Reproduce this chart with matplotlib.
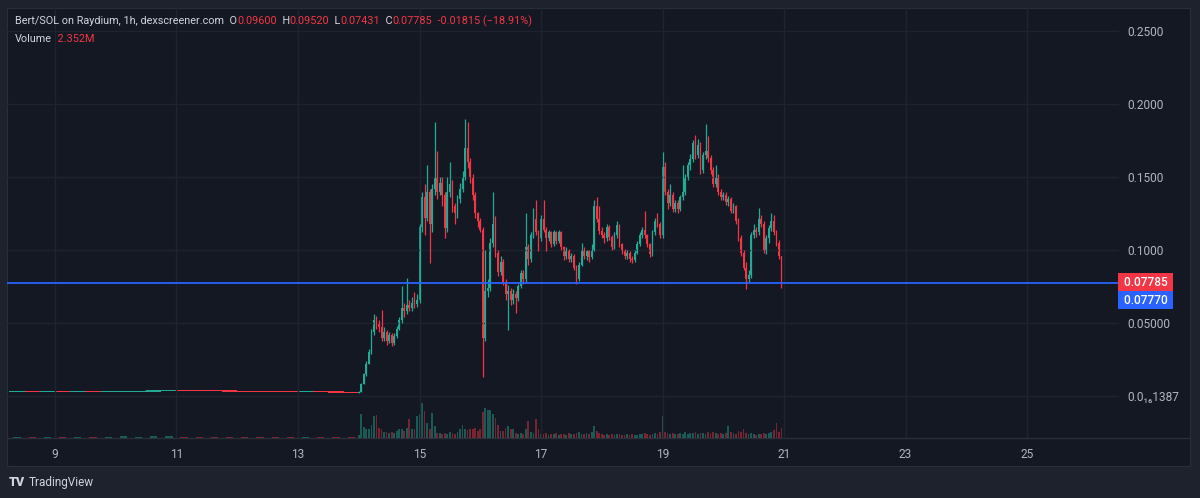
import matplotlib.pyplot as plt
import numpy as np
from matplotlib.lines import Line2D

plt.rcParams['font.family'] = ['Roboto', 'DejaVu Sans']

# prices below are in 1e-3 SOL
# pre-launch drift, 6h candles from Jan 8 06:00
pre_open0 = 2.4
pre_close = [2.5, 2.4, 2.6, 2.5, 2.7, 2.6, 2.8, 2.9, 3.0, 3.3, 3.5, 3.4,
             3.3, 3.1, 3.0, 2.9, 2.8, 2.7, 2.5, 2.6, 2.4, 2.3, 2.2]
pre_vol = [0.3, 0.2, 0.3, 0.25, 0.3, 0.2, 0.3, 0.35, 0.3, 0.4, 0.35, 0.3,
           0.3, 0.25, 0.3, 0.2, 0.3, 0.25, 0.3, 0.2, 0.25, 0.3, 0.3]

# hourly candles, Jan 14 00:00 .. Jan 20 23:00
open0 = 2.2
close = [
    3, 8, 15, 22, 30, 44, 52, 50, 47, 40, 44, 38, 42, 36, 41, 46, 52, 60, 58, 62, 60, 64, 63, 66,
    116, 136, 122, 140, 118, 142, 150, 140, 146, 138, 115, 140, 145, 130, 125, 135, 142, 150, 170, 160, 150, 138, 125, 120,
    114, 40, 72, 74, 105, 118, 98, 85, 92, 78, 70, 72, 66, 70, 67, 75, 84, 80, 102, 94, 110, 121, 112, 108,
    121, 114, 108, 112, 104, 112, 106, 112, 102, 96, 100, 94, 96, 88, 80, 90, 100, 96, 99, 95, 100, 130, 121, 113,
    110, 108, 116, 109, 102, 110, 117, 104, 100, 96, 98, 94, 93, 98, 104, 110, 114, 110, 104, 97, 112, 120, 118, 110,
    157, 140, 132, 138, 128, 132, 128, 136, 140, 150, 158, 162, 173, 165, 172, 155, 165, 168, 163, 155, 145, 150, 140, 136,
    138, 133, 135, 127, 130, 120, 108, 98, 88, 80, 83, 110, 114, 112, 121, 118, 100, 108, 115, 120, 112, 105, 96, 77.85,
]
high = [
    3.5, 9, 16, 24, 32, 46, 56, 55, 52, 59, 47, 45, 44, 43, 43, 48, 54, 75, 64, 81, 66, 68, 71, 70,
    118, 140, 145, 158, 142, 145, 188, 168, 150, 150, 140, 150, 160, 148, 132, 138, 146, 154, 190, 188, 163, 152, 140, 126,
    122, 116, 100, 80, 108, 140, 123, 100, 96, 94, 80, 76, 74, 73, 72, 77, 86, 86, 125, 104, 112, 129, 134, 114,
    124, 134, 116, 114, 113, 114, 113, 114, 113, 103, 102, 101, 98, 97, 90, 92, 105, 102, 100, 100, 104, 134, 136, 130,
    116, 112, 118, 117, 110, 112, 120, 118, 105, 101, 100, 99, 96, 100, 106, 112, 116, 127, 111, 105, 114, 122, 125, 119,
    167, 160, 142, 145, 140, 134, 134, 138, 158, 152, 160, 166, 175, 179, 176, 174, 167, 186, 178, 165, 157, 158, 152, 142,
    140, 140, 137, 136, 132, 131, 122, 110, 100, 92, 86, 112, 118, 116, 129, 124, 120, 110, 117, 125, 124, 114, 107, 96,
]
low = [
    2.2, 3, 8, 14, 22, 29, 42, 46, 44, 38, 38, 35, 36, 34, 35, 40, 45, 50, 54, 56, 58, 58, 60, 61,
    64, 112, 110, 120, 91, 112, 138, 135, 138, 130, 108, 112, 136, 126, 118, 122, 132, 140, 148, 156, 146, 134, 122, 116,
    112, 13, 38, 68, 72, 102, 95, 82, 83, 76, 66, 45, 62, 63, 57, 65, 74, 77, 78, 90, 92, 108, 110, 99,
    106, 112, 99, 106, 102, 103, 104, 105, 100, 93, 94, 92, 92, 86, 77, 79, 89, 94, 93, 92, 94, 99, 119, 111,
    108, 105, 106, 107, 100, 101, 108, 102, 97, 94, 94, 92, 91, 92, 97, 103, 108, 108, 102, 95, 96, 110, 116, 108,
    108, 138, 128, 130, 126, 126, 125, 127, 134, 138, 148, 155, 160, 162, 163, 152, 153, 162, 160, 152, 143, 143, 138, 134,
    134, 131, 130, 125, 125, 118, 106, 96, 86, 73, 78, 81, 108, 109, 110, 116, 98, 97, 105, 113, 110, 103, 94, 74.31,
]
# volume, millions
volume = [
    0.8, 5.6, 2.5, 2.0, 2.2, 3.0, 5.2, 5.4, 2.4, 2.2, 1.4, 1.4, 1.2, 1.4, 1.2, 1.6, 2.0, 2.2, 1.6, 2.4, 4.5, 2.0, 2.0, 5.2,
    5.6, 8.2, 6.3, 3.5, 2.2, 5.9, 2.8, 1.2, 1.2, 1.0, 1.2, 1.0, 1.4, 1.2, 1.0, 1.4, 2.0, 3.0, 2.0, 1.8, 2.2, 2.0, 2.4, 1.6,
    2.0, 6.0, 7.0, 6.5, 6.6, 5.6, 4.7, 3.0, 1.6, 1.6, 2.4, 2.8, 2.2, 2.0, 1.2, 1.0, 1.2, 1.0, 2.2, 4.0, 1.4, 1.2, 4.5, 2.0,
    1.0, 0.9, 1.2, 0.8, 1.0, 0.9, 1.1, 0.8, 0.9, 1.0, 0.8, 1.2, 1.0, 0.9, 1.1, 1.3, 1.0, 0.9, 1.2, 1.0, 1.4, 2.8, 1.6, 1.2,
    0.9, 0.8, 1.0, 0.7, 0.9, 0.8, 1.0, 0.9, 0.7, 0.8, 1.0, 0.8, 0.9, 0.8, 0.7, 1.0, 0.9, 1.1, 0.9, 0.8, 1.0, 1.2, 1.0, 1.4,
    5.2, 1.4, 1.2, 1.0, 1.1, 0.9, 1.0, 1.2, 1.0, 1.3, 0.9, 1.1, 1.2, 1.4, 1.0, 1.2, 1.1, 1.0, 1.5, 1.2, 1.4, 1.1, 1.0, 1.2,
    1.0, 1.2, 2.8, 1.4, 1.2, 1.0, 1.6, 1.4, 2.1, 1.2, 1.0, 1.2, 0.9, 0.8, 1.0, 0.9, 1.1, 1.0, 1.2, 1.4, 1.8, 3.5, 1.5, 2.352,
]

price_ticks = [1.387e-17, 0.05, 0.10, 0.15, 0.20, 0.25]
price_labels = ['0.0₁₆1387', '0.05000', '0.1000', '0.1500', '0.2000', '0.2500']
day_ticks = [9, 11, 13, 15, 17, 19, 21, 23, 25]
last_price = 0.07785
mark_price = 0.07770

UP, DOWN = '#22ab94', '#f23645'
TXT = '#d1d4dc'
AXT = '#b2b5be'
PANEL = '#141823'
GRID = '#1f2330'
FS = 7.8

fig = plt.figure(figsize=(12, 4.98), dpi=100, facecolor='#1e222d')
W, H = 1200, 498

bg = fig.add_axes([7 / W, 1 - 466 / H, 1183 / W, 458 / H])
bg.set_facecolor(PANEL)
bg.set_xticks([])
bg.set_yticks([])
for s in bg.spines.values():
    s.set_color('#2a2e39')

ax = fig.add_axes([7 / W, 1 - 438 / H, 1112 / W, 430 / H])
vax = ax.twinx()
ax.set_zorder(3)
vax.set_zorder(2)
ax.patch.set_visible(False)
vax.axis('off')

# pre-launch
po = np.r_[pre_open0, pre_close[:-1]] / 1000
pc = np.array(pre_close) / 1000
pt = 8.25 + np.arange(len(pc)) * 0.25
pcol = np.where(pc >= po, UP, DOWN)
ax.bar(pt, np.maximum(np.abs(pc - po), 0.0008), bottom=np.minimum(po, pc),
       width=0.25, align='edge', color=pcol, lw=0)
vax.bar(pt + 0.125, pre_vol, width=0.12, color=pcol, alpha=0.45, lw=0)

# hourly candles
c = np.array(close) / 1000
o = np.r_[open0 / 1000, c[:-1]]
t = 14 + np.arange(len(c)) / 24
col = np.where(c >= o, UP, DOWN)
ax.vlines(t, np.array(low) / 1000, np.array(high) / 1000, colors=col, lw=0.9)
ax.bar(t, np.maximum(np.abs(c - o), 0.0008), bottom=np.minimum(o, c),
       width=0.7 / 24, color=col, lw=0)
vax.bar(t, volume, width=0.7 / 24, color=col, alpha=0.45, lw=0)

ax.axhline(mark_price, color='#2962ff', lw=1.3)

ax.set_xlim(8.21, 26.514)
ax.set_ylim(-0.02877, 0.26575)
vax.set_ylim(0, 100)

ax.set_xticks(day_ticks, labels=[str(d) for d in day_ticks])
ax.yaxis.tick_right()
ax.set_yticks(price_ticks, labels=price_labels)
ax.tick_params(axis='both', length=0, colors=AXT, labelsize=8.6)
ax.tick_params(axis='y', pad=6)
ax.tick_params(axis='x', pad=7)
ax.grid(True, color=GRID, lw=1)
for s in ax.spines.values():
    s.set_visible(False)

# price labels on the scale
for txt, fc, dy in [(' 0.07785 ', DOWN, 0), (' 0.07770 ', '#2962ff', -18)]:
    ax.annotate(txt, xy=(1, last_price), xycoords=('axes fraction', 'data'),
                xytext=(2, dy), textcoords='offset pixels', va='center', ha='left',
                color='white', fontsize=8.6, fontweight='medium',
                bbox=dict(boxstyle='square,pad=0.22', fc=fc, ec='none'))

fig.add_artist(Line2D([7 / W, 1190 / W], [1 - 438 / H] * 2, color='#2a2e39', lw=1))

# legend header, coloured pieces chained one after another
y1, y2 = H - 24, H - 42
prev = fig.text(15 / W, y1 / H, 'Bert/SOL on Raydium, 1h, dexscreener.com  O',
                color=TXT, fontsize=FS, va='baseline')
for s, cl in [('0.09600', DOWN), ('  H', TXT), ('0.09520', DOWN), ('  L', TXT),
              ('0.07431', DOWN), ('  C', TXT), ('0.07785', DOWN),
              ('  -0.01815 (−18.91%)', DOWN)]:
    prev = ax.annotate(s, xy=(1, y1), xycoords=(prev, 'figure pixels'),
                       va='baseline', ha='left', color=cl, fontsize=FS,
                       annotation_clip=False)

vol_t = fig.text(15 / W, y2 / H, 'Volume', color=TXT, fontsize=FS, va='baseline')
ax.annotate('  2.352M', xy=(1, y2), xycoords=(vol_t, 'figure pixels'),
            va='baseline', ha='left', color=DOWN, fontsize=FS, annotation_clip=False)

# footer logo
fig.text(9 / W, 1 - 482 / H, 'TV', color=TXT, fontsize=9, fontweight='black', va='center')
fig.text(29 / W, 1 - 482 / H, 'TradingView', color=TXT, fontsize=8.5, va='center')

fig.savefig('out.png', dpi=100, facecolor=fig.get_facecolor())
